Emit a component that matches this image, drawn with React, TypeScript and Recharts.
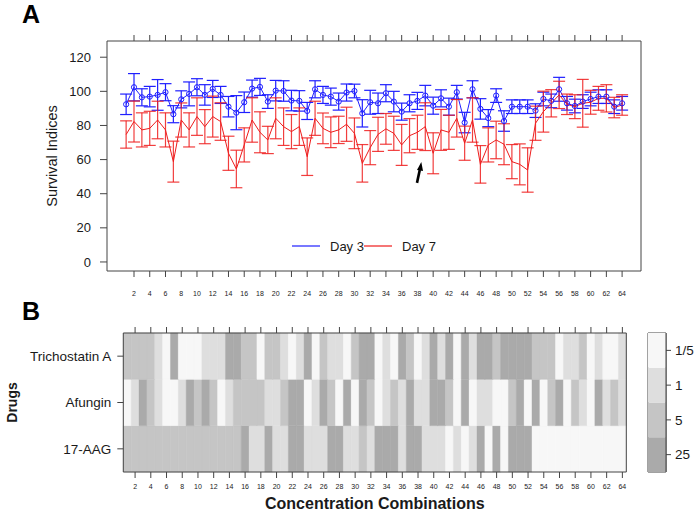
import React from 'react';
import {
  LineChart, Line, XAxis, YAxis, ErrorBar, BarChart, Bar, Cell, Legend,
  ReferenceDot, ReferenceArea, Label,
} from 'recharts';

const FONT = '"Liberation Sans", Arial, Helvetica, sans-serif';
const TXT = '#1a1a1a';
const FRAME = '#444';
const BLUE = '#1f1fff';
const RED = '#ee1c1c';

// ---- Panel A data ----
const combos = [1,2,3,4,5,6,7,8,9,10,11,12,13,14,15,16,17,18,19,20,21,22,23,24,25,26,27,28,29,30,31,32,
  33,34,35,36,37,38,39,40,41,42,43,44,45,46,47,48,49,50,51,52,53,54,55,56,57,58,59,60,61,62,63,64];
const evenTicks = [2,4,6,8,10,12,14,16,18,20,22,24,26,28,30,32,34,36,38,40,42,44,46,48,50,52,54,56,58,60,62,64];
const yTicks = [0,20,40,60,80,100,120];

const day3 = [92.4,102.4,96.5,96.9,97.9,99.5,86.6,95.3,98.5,102.4,97.9,101.4,97.9,91.0,87.5,93.6,
  101.6,102.6,94.0,100.4,100.2,94.6,94.4,88.5,101.2,97.9,96.9,94.0,99.3,100.2,87.1,93.6,
  93.0,98.9,94.0,88.1,93.0,94.4,97.5,91.6,95.9,91.0,99.5,81.7,101.2,89.7,84.3,97.5,
  82.6,91.0,91.0,91.0,88.7,95.5,94.4,101.2,93.0,91.4,94.0,95.5,96.9,96.9,91.0,93.0];
const day3Err = [6,8,5,6,9,5,5,5,7,5,6,5,5,6,10,6,5,5,4,6,6,6,6,5,5,5,5,5,5,4,8,7,
  6,5,6,5,5,5,6,5,5,5,4,6,5,6,5,4,6,4,4,4,4,4,4,7,4,4,4,4,4,4,4,4];
const day7 = [74.7,82.3,77.4,78.3,83.2,77.4,58.8,83.2,77.4,85.2,79.3,85.2,82.3,63.7,54.5,68.6,
  83.2,76.0,71.5,84.2,79.3,76.4,79.3,61.7,84.2,78.3,76.0,77.4,80.7,75.4,57.8,67.0,
  74.8,78.0,75.4,68.6,74.0,76.0,79.3,63.7,77.4,76.0,84.2,69.6,83.2,57.2,68.6,71.5,
  69.0,58.8,57.2,53.9,81.3,88.1,93.0,97.9,92.4,91.0,93.0,93.6,95.9,95.9,90.5,92.0];
const day7Err = [8,12,10,10,11,10,12,10,10,11,10,12,11,10,11,10,13,12,8,12,11,10,11,11,10,9,9,8,10,9,11,10,
  10,9,10,12,10,10,14,12,12,10,11,10,13,11,10,11,12,10,12,13,10,12,8,8,6,7,14,7,7,8,6,6];

// ---- Panel B data (0 = 1/5, 1 = 1, 2 = 5, 3 = 25) ----
const drugs = ['17-AAG', 'Afungin', 'Trichostatin A'];
const levelLabels = ['1/5', '1', '5', '25'];
const levelColors = ['#f7f7f7', '#dedede', '#c5c5c5', '#aaaaaa'];
const trichostatin = [2,2,2,2,1,0,3,0,0,0,1,1,1,3,3,2,2,0,2,2,1,0,1,3,0,2,1,1,0,2,3,3,
  0,1,0,3,2,0,1,3,1,3,0,3,1,3,3,2,3,3,3,3,2,2,2,0,1,1,2,0,1,0,0,1];
const afungin = [0,1,3,2,1,0,0,1,3,2,3,2,0,1,2,2,2,2,1,1,2,3,3,0,1,3,2,0,3,0,3,2,
  0,1,2,1,3,1,1,3,3,2,0,3,0,1,1,0,0,2,3,0,3,0,2,3,0,2,1,0,3,1,2,1];
const aag17 = [2,2,2,2,2,2,2,2,2,2,2,2,2,2,2,3,1,1,3,1,1,3,3,1,1,1,3,3,1,1,2,1,
  3,3,3,1,3,3,1,1,1,0,1,0,1,3,0,3,0,3,3,3,0,0,0,0,0,0,0,0,0,0,0,0];

const dataA = combos.map((c, i) => ({ idx: c, d3: day3[i], d3e: day3Err[i], d7: day7[i], d7e: day7Err[i] }));
const dataB = combos.map((c, i) => ({ col: c, aag: 1, afu: 1, tsa: 1, aagL: aag17[i], afuL: afungin[i], tsaL: trichostatin[i] }));
const dataLeg = [{ k: 'key', l0: 1, l1: 1, l2: 1, l3: 1 }];

const abs: React.CSSProperties = { position: 'absolute', left: 0, top: 0 };

const LegendContent = (props: any) => {
  const items = props.payload || [];
  return (
    <svg width={170} height={18} style={{ display: 'block' }}>
      {items.map((it: any, i: number) => {
        const x0 = i * 72;
        return (
          <g key={i}>
            <line x1={x0} y1={9} x2={x0 + 28} y2={9} stroke={it.color} strokeWidth={1.2} />
            <text x={x0 + 38} y={9} dominantBaseline="central" fontSize={13} fill={TXT} fontFamily={FONT}>{it.value}</text>
          </g>
        );
      })}
    </svg>
  );
};

const Arrow = (p: any) => {
  const { cx, cy } = p;
  if (cx == null || cy == null) return null;
  return (
    <g>
      <line x1={cx - 2} y1={cy + 10} x2={cx + 0.8} y2={cy - 3} stroke="#000" strokeWidth={2.6} />
      <polygon points={`${cx + 2.3},${cy - 11} ${cx - 2},${cy - 3} ${cx + 4},${cy - 2}`} fill="#000" />
    </g>
  );
};

export default function App() {
  return (
    <div style={{ position: 'absolute', left: 0, top: 0, width: 697, height: 510, background: '#fff', fontFamily: FONT }}>
      {/* Panel A */}
      <div style={abs}>
        <LineChart width={697} height={510} data={dataA} margin={{ top: 31, right: 55, bottom: 209, left: 47 }}>
          <XAxis xAxisId="b" dataKey="idx" type="number" domain={[-1.43, 66.4]} allowDataOverflow ticks={evenTicks}
            interval={0} height={30} tickSize={6} tickMargin={14} stroke={FRAME}
            tick={{ fontSize: 7, fill: TXT, fontFamily: FONT }} />
          <XAxis xAxisId="t" orientation="top" dataKey="idx" type="number" domain={[-1.43, 66.4]} allowDataOverflow
            ticks={evenTicks} interval={0} height={10} tickSize={6} stroke={FRAME} tickFormatter={() => ''} />
          <YAxis yAxisId="l" type="number" domain={[-5.3, 129.5]} allowDataOverflow ticks={yTicks} interval={0}
            width={60} tickSize={7} tickMargin={9} stroke={FRAME}
            tick={{ fontSize: 13, fill: TXT, fontFamily: FONT }}>
            <Label content={(p: any) => {
              const vb = p.viewBox; const x = vb.x + 5; const y = vb.y + vb.height / 2;
              return <text x={x} y={y} transform={`rotate(-90, ${x}, ${y})`} textAnchor="middle" dominantBaseline="central"
                fontSize={14.5} fill={TXT} fontFamily={FONT}>Survival Indices</text>;
            }} />
          </YAxis>
          <YAxis yAxisId="r" orientation="right" type="number" domain={[0, 1]} width={1} tick={false} tickLine={false} stroke={FRAME} />
          <Line xAxisId="b" yAxisId="l" name="Day 3" dataKey="d3" stroke={BLUE} strokeWidth={1}
            dot={{ r: 2.6, stroke: BLUE, fill: 'none', strokeWidth: 1 }} isAnimationActive={false}>
            <ErrorBar dataKey="d3e" width={6} stroke={BLUE} strokeWidth={1.2} direction="y" />
          </Line>
          <Line xAxisId="b" yAxisId="l" name="Day 7" dataKey="d7" stroke={RED} strokeWidth={1}
            dot={false} isAnimationActive={false}>
            <ErrorBar dataKey="d7e" width={6} stroke={RED} strokeWidth={1.2} strokeOpacity={0.85} direction="y" />
          </Line>
          <ReferenceDot xAxisId="b" yAxisId="l" x={38.2} y={52.2} r={0} shape={Arrow} ifOverflow="visible" />
          <Legend content={LegendContent} layout="horizontal" verticalAlign="middle" align="center"
            wrapperStyle={{ position: 'absolute', left: 292, top: 237, width: 170, height: 18 }} />
        </LineChart>
      </div>

      {/* Panel B heatmap */}
      <div style={abs}>
        <BarChart width={697} height={510} data={dataB} margin={{ top: 323, right: 60.7, bottom: 8, left: 13.3 }}
          barCategoryGap={0} barGap={0}>
          <XAxis xAxisId="b" dataKey="col" ticks={evenTicks} interval={0} height={30} tickSize={6} tickMargin={6}
            stroke={FRAME} tick={{ fontSize: 7, fill: TXT, fontFamily: FONT }}>
            <Label content={(p: any) => {
              const vb = p.viewBox; const x = vb.x + vb.width / 2; const y = vb.y + 31;
              return <text x={x} y={y} textAnchor="middle" dominantBaseline="central" fontSize={16} fontWeight="bold"
                fill={TXT} fontFamily={FONT}>Concentration Combinations</text>;
            }} />
          </XAxis>
          <XAxis xAxisId="t" orientation="top" dataKey="col" ticks={evenTicks} interval={0} height={10} tickSize={6}
            stroke={FRAME} tickFormatter={() => ''} />
          <YAxis yAxisId="l" type="number" domain={[0, 3]} ticks={[0.5, 1.5, 2.5]} interval={0} width={110}
            tickSize={6} tickMargin={6} stroke={FRAME} tickFormatter={(v: number) => drugs[Math.floor(v)]}
            tick={{ fontSize: 13.5, fill: TXT, fontFamily: FONT }}>
            <Label content={(p: any) => {
              const vb = p.viewBox; const x = vb.x - 1; const y = vb.y + vb.height / 2;
              return <text x={x} y={y} transform={`rotate(-90, ${x}, ${y})`} textAnchor="middle" dominantBaseline="central"
                fontSize={14} fontWeight="bold" fill={TXT} fontFamily={FONT}>Drugs</text>;
            }} />
          </YAxis>
          <YAxis yAxisId="r" orientation="right" type="number" domain={[0, 3]} ticks={[0.5, 1.5, 2.5]} interval={0}
            width={10} tickSize={6} stroke={FRAME} tickFormatter={() => ''} />
          <Bar xAxisId="b" yAxisId="l" dataKey="aag" stackId="h" isAnimationActive={false}>
            {dataB.map((d, i) => <Cell key={i} fill={levelColors[d.aagL]} stroke={levelColors[d.aagL]} strokeWidth={0.4} />)}
          </Bar>
          <Bar xAxisId="b" yAxisId="l" dataKey="afu" stackId="h" isAnimationActive={false}>
            {dataB.map((d, i) => <Cell key={i} fill={levelColors[d.afuL]} stroke={levelColors[d.afuL]} strokeWidth={0.4} />)}
          </Bar>
          <Bar xAxisId="b" yAxisId="l" dataKey="tsa" stackId="h" isAnimationActive={false}>
            {dataB.map((d, i) => <Cell key={i} fill={levelColors[d.tsaL]} stroke={levelColors[d.tsaL]} strokeWidth={0.4} />)}
          </Bar>
        </BarChart>
      </div>

      {/* Colour key */}
      <div style={abs}>
        <BarChart width={697} height={510} data={dataLeg} margin={{ top: 333, right: 0, bottom: 38, left: 648 }}
          barCategoryGap={0} barGap={0}>
          <XAxis dataKey="k" hide />
          <YAxis yAxisId="r" orientation="right" type="number" domain={[0, 4]} ticks={[0.5, 1.5, 2.5, 3.5]} interval={0}
            width={31} tickSize={5} tickMargin={4} stroke={FRAME}
            tickFormatter={(v: number) => levelLabels[3 - Math.floor(v)]}
            tick={{ fontSize: 13.5, fill: TXT, fontFamily: FONT }} />
          <Bar yAxisId="r" dataKey="l0" stackId="k" fill={levelColors[3]} isAnimationActive={false} />
          <Bar yAxisId="r" dataKey="l1" stackId="k" fill={levelColors[2]} isAnimationActive={false} />
          <Bar yAxisId="r" dataKey="l2" stackId="k" fill={levelColors[1]} isAnimationActive={false} />
          <Bar yAxisId="r" dataKey="l3" stackId="k" fill={levelColors[0]} isAnimationActive={false} />
          <ReferenceArea yAxisId="r" y1={0} y2={4} fill="none" stroke={FRAME} strokeWidth={1} ifOverflow="visible" />
        </BarChart>
      </div>

      {/* Panel letters */}
      <svg width={697} height={510} style={{ ...abs, pointerEvents: 'none' }}>
        <text x={22} y={22.8} fontSize={25} fontWeight="bold" fill="#000" fontFamily={FONT}>A</text>
        <text x={22} y={320} fontSize={25} fontWeight="bold" fill="#000" fontFamily={FONT}>B</text>
      </svg>
    </div>
  );
}
